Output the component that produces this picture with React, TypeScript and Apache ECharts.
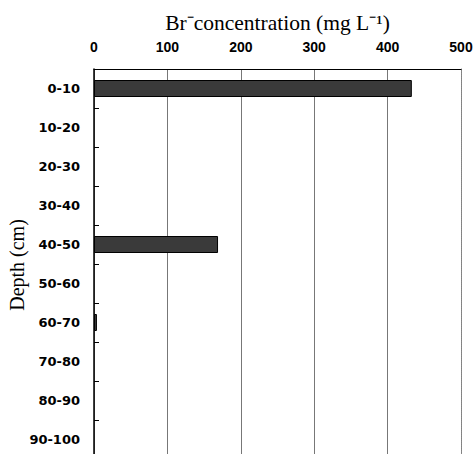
import React, { useEffect, useRef } from "react";
import * as echarts from "echarts";

const depths = ["0-10", "10-20", "20-30", "30-40", "40-50", "50-60", "60-70", "70-80", "80-90", "90-100"];
const brConcentration = [433, 0, 0, 0, 169, 0, 4, 0, 0, 0];
const xTicks = [0, 100, 200, 300, 400, 500];

export default function App() {
  const ref = useRef<HTMLDivElement>(null);
  useEffect(() => {
    if (!ref.current) return;
    const chart = echarts.init(ref.current, null, { renderer: "svg" });
    chart.setOption({
      animation: false,
      backgroundColor: "#fff",
      grid: {
        left: 94,
        right: 14,
        top: 69,
        bottom: -5,
        show: false,
        containLabel: false,
        outerBoundsMode: "none",
      },
      graphic: [
        {
          type: "text",
          x: 17,
          y: 265,
          rotation: Math.PI / 2,
          style: {
            text: "Depth (cm)",
            fontFamily: "Liberation Serif",
            fontSize: 20,
            fill: "#000",
            align: "center",
            verticalAlign: "middle",
          },
        },
      ],
      xAxis: {
        type: "value",
        position: "top",
        min: xTicks[0],
        max: xTicks[xTicks.length - 1],
        interval: 100,
        name: "Br\u207Bconcentration (mg L\u207B\u00B9)",
        nameLocation: "middle",
        nameGap: 35,
        nameTextStyle: {
          fontFamily: "Liberation Serif",
          fontSize: 21.5,
          color: "#000",
        },
        axisLine: { show: true, lineStyle: { color: "#000", width: 1 } },
        axisTick: { show: false },
        axisLabel: {
          margin: 15,
          fontFamily: "Liberation Sans",
          fontWeight: "bold",
          fontSize: 14,
          color: "#000",
        },
        splitLine: { show: true, lineStyle: { color: "#777", width: 1 } },
      },
      yAxis: [
        {
          type: "category",
          inverse: true,
          data: depths,
          axisLine: { show: true, lineStyle: { color: "#000", width: 1.5 } },
          axisTick: { show: true, inside: true, length: 5, lineStyle: { color: "#000" } },
          axisLabel: {
            margin: 14,
            fontFamily: "DejaVu Sans",
            fontWeight: "bold",
            fontSize: 13,
            color: "#000",
          },
        },
        {
          type: "category",
          position: "right",
          inverse: true,
          data: depths,
          axisLine: { show: true, lineStyle: { color: "#888", width: 1, type: "dotted" } },
          axisTick: { show: false },
          axisLabel: { show: false },
        },
      ],
      series: [
        {
          type: "bar",
          data: brConcentration.map((v) => ({
            value: v,
            itemStyle: { borderWidth: v > 0 ? 1 : 0 },
          })),
          barWidth: 17,
          itemStyle: {
            color: "#3a3a3a",
            borderColor: "#000",
            borderWidth: 1,
          },
        },
      ],
    });
    return () => chart.dispose();
  }, []);
  return (
    <div
      ref={ref}
      style={{ position: "fixed", left: 0, top: 0, width: 475, height: 454 }}
    />
  );
}
